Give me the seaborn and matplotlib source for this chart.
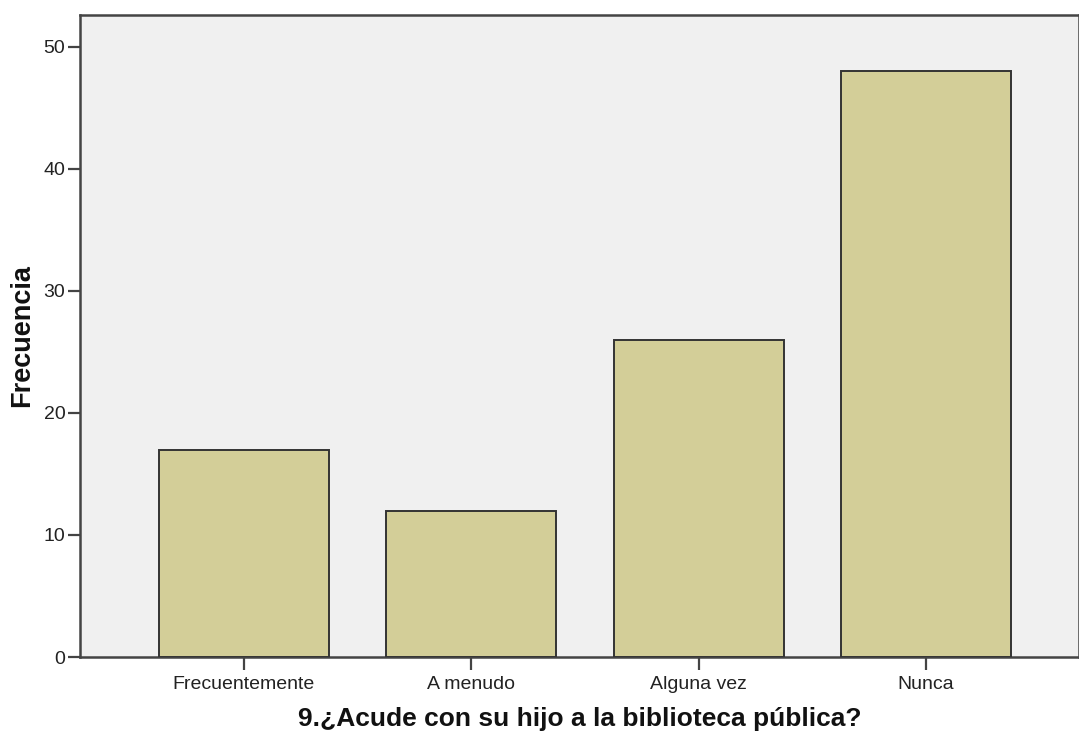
import matplotlib
matplotlib.use("Agg")
import matplotlib.pyplot as plt
import seaborn as sns
import pandas as pd

categories = ["Frecuentemente", "A menudo", "Alguna vez", "Nunca"]
frecuencia = [17, 12, 26, 48]
yticks = [0, 10, 20, 30, 40, 50]

sns.set_style("white")
plt.rcParams["font.family"] = ["Liberation Sans", "DejaVu Sans"]

df = pd.DataFrame({"cat": categories, "freq": frecuencia})

W, H = 1079, 731
fig = plt.figure(figsize=(W / 100, H / 100), dpi=100)
ax = fig.add_axes([80 / W, (H - 657) / H, (W - 80) / W, (657 - 15) / H])
ax.set_facecolor("#F0F0F0")

sns.barplot(data=df, x="cat", y="freq", color="#D3CE98", width=0.748,
            edgecolor="#333333", linewidth=1.4, saturation=1, ax=ax, zorder=3)

ax.set_xlim(-0.7214, 3.673)
ax.set_ylim(0, 52.6)
ax.set_yticks(yticks)
ax.set_yticklabels([str(t) for t in yticks])

for s in ["left", "bottom", "top", "right"]:
    ax.spines[s].set_color("#444444")
    ax.spines[s].set_linewidth(1.8)

ax.tick_params(axis="both", which="both", direction="out", length=9, width=1.6,
               color="#444444", labelsize=14, labelcolor="#222222", pad=1.5,
               bottom=True, left=True)
ax.tick_params(axis="x", pad=5)

ax.set_xlabel("9.¿Acude con su hijo a la biblioteca pública?", fontsize=19,
              fontweight="bold", color="#111111", labelpad=9.5)
ax.set_ylabel("Frecuencia", fontsize=19.5, fontweight="bold", color="#111111", labelpad=6)

fig.savefig("out.png", dpi=100, facecolor="white")
